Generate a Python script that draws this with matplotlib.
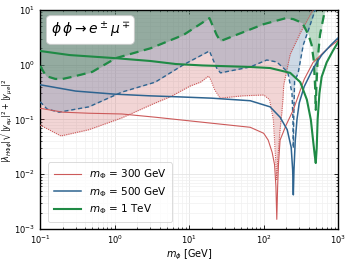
import matplotlib
matplotlib.use("Agg")
import matplotlib.pyplot as plt
import numpy as np

# relic-density lines (solid)
m_red = [0.1, 0.2, 0.45, 1.25, 3.5, 14, 66, 100, 115, 130, 140, 146, 150,
         154, 158, 166, 200, 250, 350, 460, 700, 1000]
y_red = [0.16, 0.136, 0.13, 0.126, 0.11, 0.09, 0.072, 0.056, 0.042, 0.025,
         0.015, 0.006, 0.0015, 0.006, 0.015, 0.042, 0.079, 0.15, 0.54, 1.1,
         1.9, 2.8]

m_blue = [0.1, 0.3, 1, 3, 6.6, 20, 66, 122, 166, 207, 234, 245, 250, 255,
          265, 280, 300, 350, 460, 600, 800, 1000]
y_blue = [0.43, 0.33, 0.29, 0.27, 0.26, 0.245, 0.22, 0.17, 0.11, 0.065,
          0.031, 0.012, 0.0042, 0.012, 0.04, 0.1, 0.2, 0.4, 0.85, 1.5, 2.3,
          3.1]

m_green = [0.1, 0.25, 1, 3, 6.6, 15, 66, 122, 227, 310, 380, 430, 460, 485,
           500, 515, 530, 560, 600, 700, 850, 1000]
y_green = [1.78, 1.5, 1.32, 1.17, 1.03, 0.97, 0.91, 0.87, 0.71, 0.48, 0.23,
           0.098, 0.042, 0.022, 0.016, 0.03, 0.1, 0.3, 0.6, 1.1, 1.8, 2.6]

# lower edges of the shaded regions
m_red_lo = [0.1, 0.19, 0.45, 1.25, 3.5, 5.6, 10.4, 14.2, 18.2, 19.5, 22, 26,
            52, 100, 120, 135, 145, 150, 155, 165, 175, 182, 186, 227, 310,
            460, 600]
y_red_lo = [0.079, 0.050, 0.065, 0.107, 0.20, 0.26, 0.41, 0.48, 0.62, 0.53,
            0.35, 0.245, 0.27, 0.28, 0.23, 0.098, 0.018, 0.008, 0.02, 0.06,
            0.13, 0.25, 0.43, 1.55, 3.8, 10, 20]

m_blue_lo = [0.1, 0.124, 0.18, 0.45, 1.25, 3.5, 8.4, 18.7, 20.5, 23.4, 26.3,
             66, 110, 150, 210, 240, 247, 250, 253, 260, 290, 340, 420, 490,
             600]
y_blue_lo = [0.21, 0.155, 0.136, 0.17, 0.316, 0.48, 1.0, 1.78, 1.32, 0.87,
             0.71, 0.91, 1.22, 1.12, 0.74, 0.3, 0.1, 0.03, 0.1, 0.5, 0.7, 2.3,
             5.3, 10, 20]

m_green_lo = [0.1, 0.12, 0.16, 0.2, 0.27, 0.5, 1.04, 3.05, 8.4, 18.7, 20.5,
              23.4, 26.3, 50, 100, 200, 250, 330, 400, 440, 470, 490, 500,
              510, 530, 570, 665, 800]
y_green_lo = [0.95, 0.62, 0.55, 0.55, 0.6, 0.74, 1.32, 2.0, 3.5, 7.1, 5.3,
              3.5, 2.7, 3.8, 5.5, 7.1, 6.8, 5.8, 3.5, 2.3, 1.2, 0.4, 0.15,
              0.4, 1.2, 3.5, 10, 20]

labels = [r"$m_\Phi$ = 300 GeV", r"$m_\Phi$ = 500 GeV", r"$m_\Phi$ = 1 TeV"]

c_red = "#cc5a5a"
c_blue = "#2e6490"
c_green = "#1f8a45"

fig = plt.figure(figsize=(3.49, 2.62), dpi=100)
ax = fig.add_axes([0.115, 0.126, 0.854, 0.836])
ax.set_axisbelow(True)
ax.set_xscale("log")
ax.set_yscale("log")
ax.set_xlim(0.1, 1000)
ax.set_ylim(1e-3, 10)

top = 10
ax.fill_between(m_red_lo, y_red_lo, top, color=c_red, alpha=0.25, lw=0, zorder=1)
ax.fill_between(m_blue_lo, y_blue_lo, top, color="#3a6a9a", alpha=0.25, lw=0, zorder=1)
ax.fill_between(m_green_lo, y_green_lo, top, color="#2a8a4a", alpha=0.3, lw=0, zorder=1)

ax.plot(m_red_lo, y_red_lo, color=c_red, ls=(0, (1, 1)), lw=0.8, zorder=3)
ax.plot(m_blue_lo, y_blue_lo, color=c_blue, ls=(0, (3, 2)), lw=1.0, zorder=3)
ax.plot(m_green_lo, y_green_lo, color=c_green, ls=(0, (4, 2.5)), lw=1.6, zorder=3)

ax.plot(m_red, y_red, color=c_red, lw=0.8, label=labels[0], zorder=4)
ax.plot(m_blue, y_blue, color=c_blue, lw=1.1, label=labels[1], zorder=4)
ax.plot(m_green, y_green, color=c_green, lw=1.5, label=labels[2], zorder=4)

ax.grid(which="major", color="#e4e4e4", lw=0.6)
ax.grid(which="minor", color="#f0f0f0", lw=0.5)
ax.tick_params(which="both", direction="in", top=True, right=True, labelsize=6)
ax.tick_params(which="major", length=3, width=0.6)
ax.tick_params(which="minor", length=1.5, width=0.5)
for s in ax.spines.values():
    s.set_linewidth(1.0)

ax.set_xlabel(r"$m_\phi$ [GeV]", fontsize=7, labelpad=1)
ax.set_ylabel(r"$|\lambda_{H\Phi\phi}|\sqrt{|y_{e\mu}|^2+|y_{\mu e}|^2}$",
              fontsize=5.8)
ax.yaxis.set_label_coords(-0.085, 0.5)

ax.text(0.035, 0.955, r"$\phi\,\phi \rightarrow e^\pm\mu^\mp$", transform=ax.transAxes,
        fontsize=10, ha="left", va="top", zorder=6,
        bbox=dict(boxstyle="round,pad=0.3", fc="white", ec="#cccccc", lw=0.6))

leg = ax.legend(loc="lower left", fontsize=7.5, frameon=True, fancybox=True,
                handlelength=2.6, borderpad=0.5, labelspacing=0.35,
                bbox_to_anchor=(0.01, 0.01))
leg.get_frame().set_edgecolor("#cccccc")
leg.get_frame().set_linewidth(0.6)
leg.set_zorder(6)

fig.savefig("out.png", dpi=100)
